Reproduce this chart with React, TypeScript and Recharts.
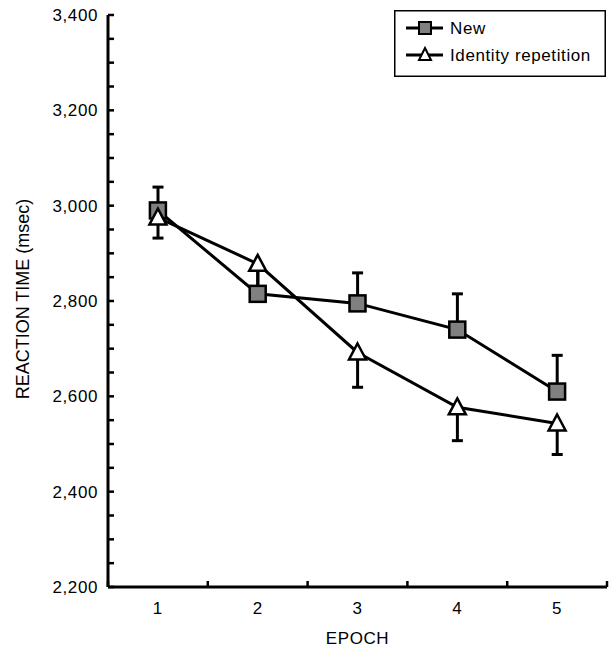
import React from 'react';
import { ComposedChart, Line, Bar, XAxis, YAxis, Legend } from 'recharts';

const epochs = [1, 2, 3, 4, 5];
const newRT = [2990, 2815, 2795, 2740, 2610];
const newErr = [49, 50, 64, 75, 76];
const idRT = [2975, 2878, 2692, 2577, 2543];
const idErr = [43, 78, 73, 70, 65];

const seriesNames = ['New', 'Identity repetition'];
const seriesKeys = ['newRT', 'idRT'];
const xTicks = [0.5, 1, 1.5, 2, 2.5, 3, 3.5, 4, 4.5, 5, 5.5];
const yTicks = [
  2200, 2250, 2300, 2350, 2400, 2450, 2500, 2550, 2600, 2650, 2700, 2750, 2800,
  2850, 2900, 2950, 3000, 3050, 3100, 3150, 3200, 3250, 3300, 3350, 3400,
];
const xTitle = 'EPOCH';
const yTitle = 'REACTION TIME (msec)';

// New: error bars point up; Identity repetition: error bars point down
const data = epochs.map((e, i) => ({
  epoch: e,
  newRT: newRT[i],
  newBar: [newRT[i], newRT[i] + newErr[i]],
  idRT: idRT[i],
  idBar: [idRT[i] - idErr[i], idRT[i]],
}));

const FONT = '"Liberation Sans", Arial, Helvetica, sans-serif';
const FS = 17;
const LS = 0.6;
const CAP = 11;
const BAR = 12;

const fmt = (v: number) => v.toLocaleString('en-US');

const XTick = (props: any) => {
  const { x, y, payload } = props;
  const v = payload.value;
  if (Number.isInteger(v)) {
    return (
      <text x={x} y={y + 27} textAnchor="middle" fontFamily={FONT} fontSize={FS} letterSpacing={LS} fill="#000">
        {v}
      </text>
    );
  }
  return <line x1={x} x2={x} y1={y} y2={y - 6} stroke="#000" strokeWidth={2.5} />;
};

const YTick = (props: any) => {
  const { x, y, payload } = props;
  const v = payload.value;
  return (
    <g>
      <line x1={x} x2={x + 6} y1={y} y2={y} stroke="#000" strokeWidth={2.5} />
      {v % 200 === 0 ? (
        <text x={x - 10} y={y + 6} textAnchor="end" fontFamily={FONT} fontSize={FS} letterSpacing={LS} fill="#000">
          {fmt(v)}
        </text>
      ) : null}
    </g>
  );
};

const UpErr = (props: any) => {
  const { x, y, width, height } = props;
  if (x == null || y == null) return <g />;
  const cx = x + width / 2;
  return (
    <g>
      <line x1={cx} x2={cx} y1={y} y2={y + height} stroke="#000" strokeWidth={3} />
      <line x1={cx - CAP / 2} x2={cx + CAP / 2} y1={y} y2={y} stroke="#000" strokeWidth={3} />
    </g>
  );
};

const DownErr = (props: any) => {
  const { x, y, width, height } = props;
  if (x == null || y == null) return <g />;
  const cx = x + width / 2;
  return (
    <g>
      <line x1={cx} x2={cx} y1={y} y2={y + height} stroke="#000" strokeWidth={3} />
      <line x1={cx - CAP / 2} x2={cx + CAP / 2} y1={y + height} y2={y + height} stroke="#000" strokeWidth={3} />
    </g>
  );
};

const SquareDot = (props: any) => {
  const { cx, cy, index } = props;
  if (cx == null || cy == null) return <g key={`s-${index}`} />;
  return (
    <rect key={`s-${index}`} x={cx - 8} y={cy - 8} width={16} height={16} fill="#808080" stroke="#000" strokeWidth={2.5} />
  );
};

const TriDot = (props: any) => {
  const { cx, cy, index } = props;
  if (cx == null || cy == null) return <g key={`t-${index}`} />;
  return (
    <path
      key={`t-${index}`}
      d={`M${cx},${cy - 9} L${cx + 8.5},${cy + 7} L${cx - 8.5},${cy + 7} Z`}
      fill="#fff"
      stroke="#000"
      strokeWidth={2.5}
      strokeLinejoin="miter"
    />
  );
};

const LegendBox = (props: any) => {
  const payload = (props.payload || [])
    .filter((e: any) => seriesNames.includes(e.value))
    .sort((a: any, b: any) => seriesNames.indexOf(a.value) - seriesNames.indexOf(b.value));
  return (
    <svg width={212} height={67} style={{ display: 'block' }}>
      <rect x={0.75} y={0.75} width={210.5} height={65.5} fill="#fff" stroke="#000" strokeWidth={1.5} />
      {payload.map((entry: any, i: number) => {
        const cy = 18 + i * 27;
        return (
          <g key={entry.value}>
            <line x1={12} x2={49} y1={cy} y2={cy} stroke="#000" strokeWidth={3} />
            {entry.dataKey === seriesKeys[0] ? (
              <rect x={25} y={cy - 6} width={12} height={12} fill="#808080" stroke="#000" strokeWidth={2} />
            ) : (
              <path d={`M31,${cy - 7} L37,${cy + 5} L25,${cy + 5} Z`} fill="#fff" stroke="#000" strokeWidth={2} />
            )}
            <text x={56} y={cy + 6} fontFamily={FONT} fontSize={FS} letterSpacing={LS} fill="#000">
              {entry.value}
            </text>
          </g>
        );
      })}
    </svg>
  );
};

const YLabel = (props: any) => {
  const vb = props.viewBox || { x: 0, y: 15, width: 108, height: 572 };
  const cx = vb.x + 29;
  const cy = vb.y + vb.height / 2 - 2;
  return (
    <text x={cx} y={cy} transform={`rotate(-90 ${cx} ${cy})`} textAnchor="middle" fontFamily={FONT} fontSize={18} fill="#000">
      {yTitle}
    </text>
  );
};

const XLabel = (props: any) => {
  const vb = props.viewBox || { x: 108, y: 587, width: 499, height: 61 };
  return (
    <text x={vb.x + vb.width / 2} y={vb.y + 57} textAnchor="middle" fontFamily={FONT} fontSize={FS} letterSpacing={LS} fill="#000">
      {xTitle}
    </text>
  );
};

export default function App() {
  return (
    <div style={{ position: 'absolute', left: 0, top: 0, width: 613, height: 648, background: '#fff' }}>
      <ComposedChart
        width={613}
        height={648}
        data={data}
        margin={{ top: 15, right: 6, bottom: 0, left: 0 }}
        barSize={BAR}
        barGap={-BAR}
      >
        <XAxis
          dataKey="epoch"
          type="number"
          domain={[0.5, 5.5]}
          ticks={xTicks}
          interval={0}
          height={61}
          tickSize={0}
          tickMargin={0}
          tickLine={false}
          tick={<XTick />}
          axisLine={{ stroke: '#000', strokeWidth: 3 }}
          label={<XLabel />}
        />
        <YAxis
          type="number"
          domain={[2200, 3400]}
          ticks={yTicks}
          interval={0}
          width={108}
          tickSize={0}
          tickMargin={0}
          tickLine={false}
          tick={<YTick />}
          axisLine={{ stroke: '#000', strokeWidth: 3 }}
          label={<YLabel />}
        />
        <Legend
          layout="vertical"
          align="center"
          verticalAlign="middle"
          content={<LegendBox />}
          wrapperStyle={{ position: 'absolute', left: 394, top: 10, width: 212, height: 67 }}
        />
        {/* error bars (drawn beneath the markers) */}
        <Bar dataKey="newBar" shape={UpErr} legendType="none" isAnimationActive={false} />
        <Bar dataKey="idBar" shape={DownErr} legendType="none" isAnimationActive={false} />
        <Line
          name={seriesNames[0]}
          dataKey="newRT"
          type="linear"
          stroke="#000"
          strokeWidth={3}
          dot={SquareDot}
          activeDot={false}
          isAnimationActive={false}
        />
        <Line
          name={seriesNames[1]}
          dataKey="idRT"
          type="linear"
          stroke="#000"
          strokeWidth={3}
          dot={TriDot}
          activeDot={false}
          isAnimationActive={false}
        />
      </ComposedChart>
    </div>
  );
}
